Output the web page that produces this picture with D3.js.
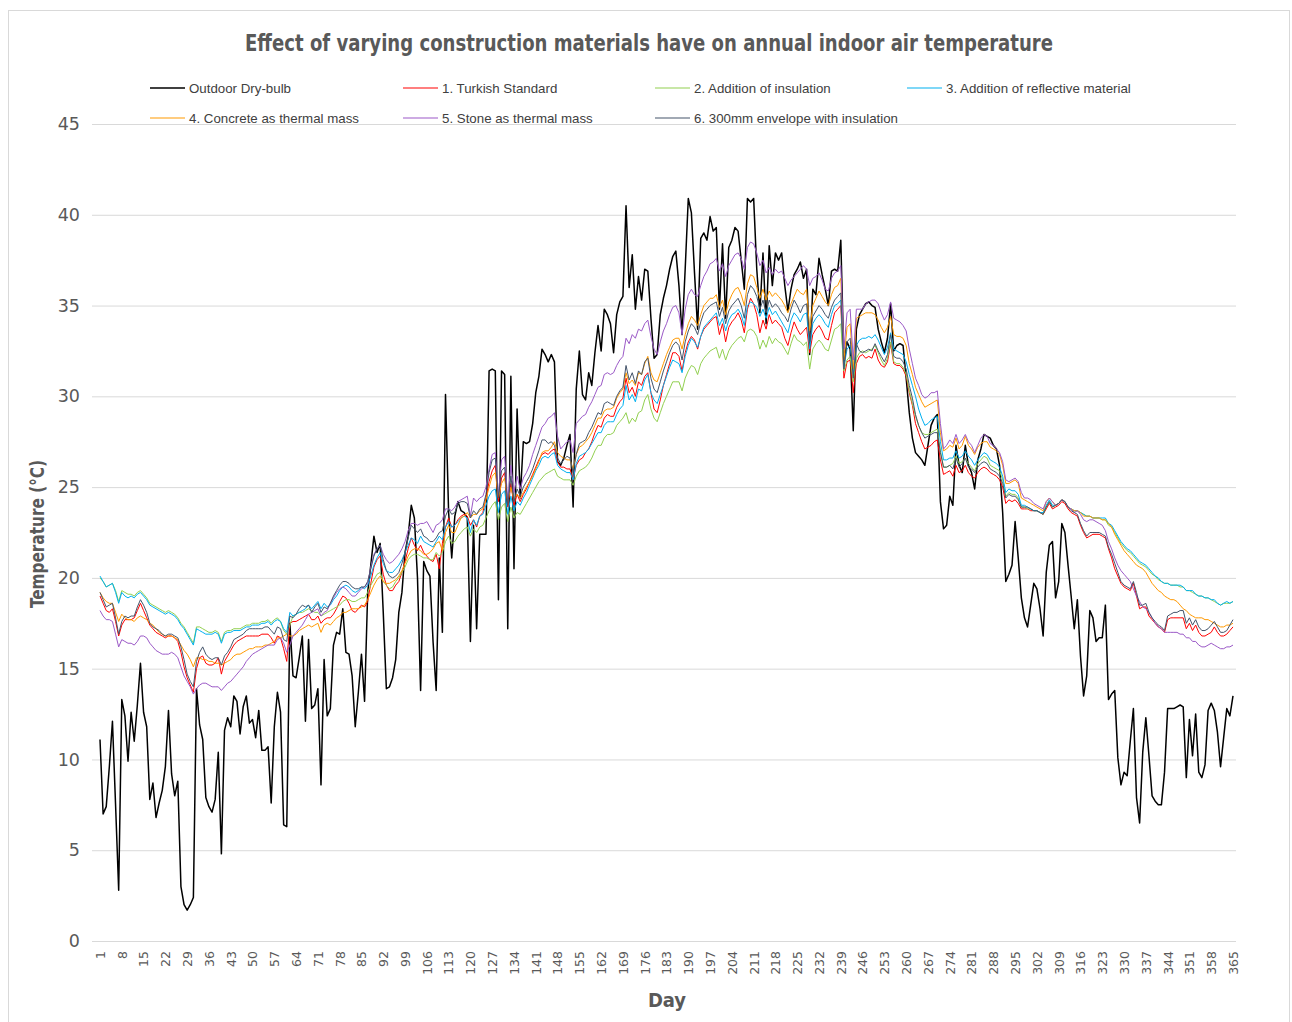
<!DOCTYPE html>
<html>
<head>
<meta charset="utf-8">
<script src="https://cdn.jsdelivr.net/npm/d3@7"></script>
<style>
  html, body { margin: 0; padding: 0; background: #ffffff; }
  svg { display: block; }
</style>
</head>
<body>
<svg id="chart" width="1292" height="1022"></svg>
<script>
// Daily mean temperatures (°C) over one year, day 1 .. 365
const outdoor = [
11.1,7.0,7.4,9.6,12.1,7.5,2.8,13.3,12.4,9.9,
12.6,11.0,13.0,15.3,12.6,11.8,7.8,8.7,6.8,7.6,
8.3,9.6,12.7,9.2,8.0,8.8,3.0,2.0,1.7,2.0,
2.4,13.9,11.9,11.1,7.9,7.4,7.1,7.8,10.4,4.8,
11.6,12.3,11.8,13.5,13.2,11.4,12.9,13.5,12.0,12.2,
11.2,12.7,10.5,10.5,10.7,7.6,11.8,13.7,12.6,6.4,
6.3,17.5,14.6,14.5,15.6,16.8,12.1,16.6,12.8,13.0,
13.9,8.6,15.5,12.4,12.8,16.3,17.0,16.9,18.3,15.9,
15.8,14.6,11.8,13.7,15.8,13.2,19.2,20.7,22.3,21.4,
21.9,18.1,13.9,14.0,14.5,15.5,18.1,19.2,21.4,22.3,
24.0,23.3,20.0,13.8,20.9,20.4,20.1,16.5,13.8,21.1,
17.0,30.1,23.6,21.1,23.4,24.2,23.7,23.6,23.3,16.5,
22.9,17.2,22.4,22.4,22.4,31.4,31.5,31.4,18.8,31.4,
31.2,17.2,31.1,20.5,29.3,24.4,27.5,27.4,27.5,28.5,
30.2,31.1,32.6,32.3,31.9,32.3,31.9,26.4,26.2,26.6,
27.3,27.9,23.9,30.4,32.5,30.1,29.8,31.3,30.6,32.4,
33.9,32.5,34.8,34.5,34.0,32.4,34.5,35.2,35.5,40.5,
36.0,37.8,34.8,36.6,35.3,37.0,36.9,34.3,32.1,32.3,
34.5,35.4,36.1,37.0,37.7,38.0,36.1,33.4,37.0,40.9,
40.1,36.8,33.7,38.7,39.0,38.6,39.9,39.1,39.3,34.8,
38.4,34.3,38.2,38.6,39.3,39.1,37.5,35.9,40.9,40.7,
40.9,37.0,34.6,37.9,34.0,38.3,36.1,37.9,37.5,37.9,
36.1,34.7,35.9,36.7,37.0,37.4,36.5,37.0,32.3,35.9,
35.6,37.6,36.7,35.9,35.0,36.9,37.0,36.9,38.6,31.9,
33.0,32.6,28.1,33.7,34.5,34.8,35.1,35.2,35.0,34.9,
33.7,33.0,32.4,33.2,35.1,32.5,32.8,32.9,32.8,31.0,
29.1,27.7,26.9,26.7,26.5,26.2,27.3,28.4,28.8,29.0,
24.2,22.7,22.9,24.5,24.0,27.3,26.2,25.8,27.3,26.2,
25.8,24.9,26.5,27.1,27.9,27.8,27.7,27.3,27.1,26.2,
23.6,19.8,20.2,20.7,23.1,21.1,18.9,17.8,17.3,18.5,
19.7,19.4,18.3,16.8,20.3,21.8,22.0,18.9,19.8,23.0,
22.5,20.7,19.0,17.2,18.8,15.7,13.5,14.6,18.2,17.8,
16.5,16.7,16.7,18.5,13.3,13.6,13.8,10.1,8.6,9.3,
9.1,11.0,12.8,7.9,6.5,10.4,12.3,10.2,8.0,7.7,
7.5,7.5,9.3,12.8,12.8,12.8,12.9,13.0,12.9,9.0,
12.2,10.2,12.5,9.3,9.0,9.7,12.7,13.1,12.7,11.5,
9.6,11.2,12.8,12.4,13.5
];

const turkishStandard = [
19.0,18.6,18.2,18.1,18.3,17.6,16.8,17.4,17.7,17.7,
17.7,17.8,18.2,18.6,18.2,17.8,17.4,17.2,17.0,16.9,
16.8,16.7,16.8,16.8,16.7,16.5,15.9,15.1,14.5,14.1,
13.7,15.0,15.6,15.7,15.3,15.2,15.2,15.3,15.6,14.7,
15.4,15.7,16.0,16.3,16.5,16.6,16.7,16.8,16.8,16.8,
16.8,16.8,16.9,16.9,16.9,16.7,16.4,16.8,16.7,16.1,
15.4,17.5,17.6,17.6,17.7,17.8,17.9,18.0,17.7,17.7,
17.9,17.5,17.7,17.8,17.8,18.0,18.3,18.7,19.0,18.9,
18.6,18.2,18.1,18.3,18.5,18.4,18.7,19.7,20.6,21.0,
21.2,20.2,19.6,19.3,19.3,19.6,19.8,20.3,20.9,21.6,
22.2,21.8,21.5,21.8,21.4,21.2,21.0,20.9,21.3,20.5,
21.9,22.8,23.3,22.8,22.9,23.2,23.4,23.5,23.4,22.9,
23.2,22.8,23.4,23.6,24.4,25.3,25.9,26.2,24.2,25.5,
25.8,23.9,25.2,24.0,24.6,24.2,24.6,24.9,25.3,25.7,
26.1,26.5,26.8,26.9,26.8,27.0,27.1,26.4,26.1,26.1,
26.0,26.0,25.4,26.2,26.5,26.6,26.9,27.1,27.5,28.0,
28.4,28.3,28.8,29.0,28.9,28.9,29.4,29.7,29.9,31.0,
30.2,30.5,30.0,30.8,30.6,31.1,31.3,30.2,29.3,29.1,
29.8,30.6,31.2,31.8,32.4,32.4,32.2,31.4,32.4,33.0,
33.3,33.1,32.6,33.3,33.7,33.9,34.1,34.3,34.4,33.4,
34.0,33.0,33.8,34.1,34.3,34.6,34.2,33.5,34.8,35.4,
35.1,34.5,33.5,34.2,33.7,34.5,34.0,34.2,34.0,33.8,
33.2,32.8,33.5,34.1,33.7,33.4,33.6,33.8,32.4,33.4,
33.7,33.9,33.6,33.2,33.1,33.9,34.6,34.8,35.0,31.0,
31.9,32.0,30.2,31.8,32.2,32.3,32.1,32.2,32.1,32.6,
32.0,31.7,31.6,31.9,32.9,31.8,31.7,31.7,31.5,31.1,
30.2,29.5,28.5,28.0,27.5,27.1,27.2,27.3,27.5,27.6,
26.5,25.7,25.8,25.9,25.6,26.2,25.8,25.9,26.2,25.8,
25.6,25.5,25.8,26.0,26.1,26.0,25.8,25.7,25.6,25.4,
25.0,24.1,24.3,24.2,24.3,24.1,23.8,23.8,23.8,23.7,
23.7,23.7,23.6,23.5,23.8,24.1,23.8,23.9,24.0,24.2,
24.1,23.8,23.6,23.5,23.4,22.9,22.5,22.2,22.3,22.4,
22.4,22.4,22.3,22.2,21.6,21.1,20.5,20.1,19.7,19.5,
19.4,19.3,19.7,19.0,18.3,18.4,18.4,17.9,17.7,17.5,
17.3,17.2,17.0,17.7,17.8,17.8,17.8,17.8,17.8,17.2,
17.5,17.1,17.4,17.0,16.8,16.8,16.9,17.0,17.3,17.0,
16.8,16.8,16.9,17.1,17.3
];

const addInsulation = [
20.0,19.8,19.5,19.6,19.7,19.3,18.7,19.3,19.2,19.1,
19.1,19.0,19.2,19.3,19.1,18.9,18.6,18.5,18.4,18.3,
18.2,18.1,18.2,18.1,18.0,17.8,17.5,17.3,17.0,16.7,
16.4,17.3,17.3,17.2,17.1,17.0,17.0,17.1,17.0,16.5,
17.0,17.1,17.1,17.2,17.2,17.2,17.3,17.4,17.4,17.5,
17.5,17.5,17.6,17.6,17.7,17.5,17.7,17.8,17.6,17.1,
16.9,17.4,17.9,18.0,18.1,18.1,18.2,18.3,18.2,18.1,
18.1,17.9,18.0,18.1,18.2,18.3,18.4,18.5,18.7,18.8,
18.8,18.7,18.7,18.8,18.9,18.9,19.2,19.6,19.9,20.2,
20.3,19.8,19.6,19.4,19.5,19.8,20.0,20.3,20.6,21.0,
21.2,21.3,21.3,21.2,21.1,21.1,21.0,21.0,21.4,21.2,
21.4,22.0,22.3,21.9,22.0,22.3,22.5,22.7,22.8,22.3,
22.7,22.5,22.8,22.9,23.3,23.7,24.0,24.2,23.2,23.9,
24.1,23.1,23.9,23.3,23.6,23.5,23.8,24.1,24.4,24.7,
25.0,25.3,25.5,25.7,25.8,25.9,26.0,25.6,25.5,25.4,
25.4,25.4,25.1,25.6,25.9,26.0,26.1,26.3,26.6,27.0,
27.3,27.3,27.7,27.9,27.9,28.0,28.4,28.6,28.8,29.1,
28.5,28.8,28.6,29.1,29.2,29.8,30.1,29.3,28.8,28.6,
29.1,29.6,30.0,30.4,30.8,30.8,30.8,30.3,31.0,31.4,
31.7,31.6,31.2,31.8,32.1,32.3,32.5,32.6,32.7,32.1,
32.6,32.0,32.5,32.8,33.0,33.2,33.3,33.0,33.6,33.7,
33.6,33.3,32.6,33.1,32.7,33.3,32.9,33.2,33.0,32.9,
32.6,32.3,32.9,33.4,33.1,33.0,32.8,33.0,31.5,32.6,
32.9,33.1,32.9,32.6,32.5,33.1,33.7,33.8,34.0,31.4,
32.0,32.2,30.8,32.1,32.4,32.5,32.4,32.5,32.6,32.8,
32.4,32.0,31.7,32.1,33.0,31.9,31.8,31.8,31.6,31.2,
30.3,29.6,28.9,28.4,28.0,27.9,27.9,28.0,28.1,28.2,
27.0,26.1,26.1,26.2,26.3,26.7,26.3,26.4,26.6,26.3,
26.1,25.9,26.3,26.5,26.7,26.6,26.2,26.1,26.0,25.9,
25.4,24.5,24.7,24.6,24.6,24.4,23.9,23.9,23.8,23.8,
23.7,23.7,23.6,23.5,23.9,24.2,23.9,24.0,24.1,24.3,
24.2,23.9,23.8,23.7,23.7,23.6,23.5,23.4,23.4,23.3,
23.3,23.3,23.2,23.2,22.9,22.8,22.5,22.2,21.9,21.7,
21.5,21.4,21.2,21.0,20.8,20.7,20.6,20.4,20.2,20.1,
19.9,19.8,19.7,19.7,19.6,19.6,19.6,19.5,19.5,19.3,
19.3,19.2,19.1,19.0,19.0,18.9,18.9,18.8,18.7,18.6,
18.5,18.6,18.6,18.6,18.7
];

const addReflective = [
20.1,19.8,19.5,19.6,19.7,19.2,18.6,19.2,19.0,18.9,
19.0,18.9,19.1,19.2,19.0,18.8,18.5,18.4,18.3,18.2,
18.1,18.0,18.1,18.0,17.9,17.7,17.4,17.2,16.9,16.6,
16.3,17.2,17.1,17.0,16.9,16.9,16.9,17.0,16.9,16.4,
16.9,17.0,17.0,17.1,17.1,17.1,17.2,17.3,17.3,17.4,
17.4,17.4,17.5,17.5,17.6,17.4,17.6,17.7,17.6,17.2,
17.0,18.1,17.9,18.0,18.1,18.2,18.3,18.5,18.3,18.5,
18.7,18.3,18.6,18.4,18.5,18.8,19.0,19.3,19.5,19.6,
19.5,19.3,19.2,19.3,19.5,19.4,19.6,20.1,20.7,21.1,
21.4,20.8,20.4,20.3,20.3,20.5,20.7,21.0,21.4,21.8,
22.2,22.1,21.9,22.3,22.0,21.9,21.8,21.7,22.0,22.3,
22.1,22.8,23.1,22.8,22.9,23.1,23.3,23.4,23.3,22.5,
23.2,22.9,23.4,23.5,24.0,24.5,24.8,24.9,23.6,24.6,
24.8,23.5,24.5,23.7,24.2,24.0,24.4,24.7,25.1,25.5,
25.9,26.2,26.6,26.7,26.6,26.8,26.9,26.2,26.0,25.9,
25.8,25.8,25.4,26.3,26.7,26.8,26.9,27.1,27.4,27.7,
28.0,28.0,28.4,28.6,28.6,28.6,29.0,29.3,29.5,30.6,
29.8,30.1,29.7,30.4,30.3,30.9,31.2,30.2,29.8,29.6,
30.1,30.6,31.1,31.6,32.0,31.9,31.8,31.3,32.2,32.8,
33.2,33.0,32.7,33.3,33.8,34.0,34.2,34.4,34.6,33.9,
34.3,33.6,34.2,34.5,34.6,34.8,34.5,33.9,35.0,35.2,
35.1,34.9,34.4,34.8,34.3,34.9,34.5,34.7,34.4,34.1,
33.8,33.5,34.2,34.6,34.4,34.1,34.5,34.6,32.6,34.0,
34.3,34.5,34.3,34.0,33.8,34.5,35.0,35.1,35.3,31.6,
32.6,32.8,31.2,32.8,33.1,33.2,33.2,33.3,33.2,33.4,
33.1,32.7,32.3,32.7,33.5,32.6,32.5,32.4,32.3,31.9,
31.2,30.6,30.0,29.3,28.8,28.4,28.5,28.7,28.8,28.9,
27.5,26.5,26.5,26.6,26.6,27.0,26.6,26.7,27.0,26.7,
26.5,26.2,26.5,26.7,26.9,26.8,26.5,26.4,26.3,26.1,
25.6,24.7,24.9,24.8,24.8,24.6,24.0,24.0,23.9,23.8,
23.7,23.7,23.6,23.6,24.0,24.3,24.0,24.0,24.1,24.3,
24.2,23.9,23.8,23.7,23.7,23.6,23.5,23.4,23.4,23.3,
23.3,23.3,23.3,23.3,23.0,22.9,22.6,22.3,22.0,21.8,
21.6,21.5,21.3,21.1,20.9,20.8,20.7,20.5,20.3,20.1,
20.0,19.8,19.7,19.7,19.6,19.6,19.6,19.6,19.5,19.3,
19.3,19.3,19.1,19.0,19.0,18.9,18.9,18.8,18.8,18.6,
18.5,18.6,18.7,18.6,18.7
];

const concreteMass = [
19.2,18.9,18.7,18.6,18.6,18.1,17.6,18.0,17.8,17.7,
17.7,17.6,17.8,17.9,17.8,17.7,17.5,17.4,17.2,17.0,
16.9,16.8,16.8,16.8,16.7,16.6,16.3,16.0,15.8,15.5,
15.1,15.6,15.6,15.5,15.5,15.4,15.4,15.3,15.3,15.2,
15.3,15.4,15.5,15.7,15.8,15.8,15.9,16.0,16.1,16.1,
16.2,16.2,16.2,16.3,16.3,16.4,16.5,16.7,16.7,16.8,
16.9,16.8,16.8,16.9,17.1,17.2,17.3,17.4,17.3,17.4,
17.5,17.0,17.4,17.5,17.4,17.6,17.8,17.9,18.1,18.1,
18.2,18.3,18.3,18.3,18.4,18.5,18.8,19.2,19.6,19.9,
20.1,19.8,19.7,19.7,19.8,19.9,20.1,20.4,20.8,21.2,
21.5,21.6,21.6,21.5,21.3,21.3,21.4,21.6,21.9,22.0,
21.5,22.5,22.9,22.5,22.5,22.9,23.3,23.4,23.6,23.3,
23.5,23.5,23.7,23.8,24.3,25.0,25.6,25.8,24.4,25.2,
25.5,24.2,25.0,24.3,24.6,24.4,24.7,25.0,25.3,25.6,
26.0,26.4,26.9,27.0,27.0,27.2,27.5,26.9,26.7,26.6,
26.5,26.5,26.0,26.8,27.2,27.3,27.5,27.7,28.0,28.4,
28.8,28.8,29.2,29.3,29.3,29.4,29.9,30.2,30.4,31.3,
30.7,30.9,30.6,31.3,31.2,31.8,32.2,31.3,30.9,30.8,
31.3,31.8,32.3,32.7,33.1,33.2,33.2,32.6,33.4,34.0,
34.4,34.2,33.9,34.5,35.0,35.2,35.4,35.4,35.6,34.9,
35.3,34.5,35.2,35.6,35.9,36.0,35.6,35.0,36.2,36.7,
36.6,36.0,35.4,35.9,35.3,35.8,35.5,35.7,35.5,35.3,
35.0,34.6,35.1,35.5,35.9,35.7,35.6,35.9,33.6,35.0,
35.4,35.8,35.5,35.2,35.0,35.6,36.0,36.1,36.5,32.0,
33.8,34.0,31.5,34.3,34.4,34.5,34.6,34.6,34.6,34.5,
34.2,33.8,33.5,33.8,34.4,33.4,33.3,33.3,33.2,32.8,
31.8,31.2,30.5,30.1,29.7,29.4,29.5,29.6,29.7,29.8,
28.0,27.0,27.1,27.3,27.2,27.7,27.1,27.3,27.8,27.3,
27.1,26.8,27.2,27.4,27.5,27.5,27.2,27.1,27.0,26.8,
26.2,25.2,25.2,25.3,25.4,25.2,24.4,24.3,24.2,24.1,
24.0,23.9,23.8,23.7,24.2,24.4,24.2,24.0,24.1,24.3,
24.2,23.9,23.8,23.7,23.7,23.6,23.4,23.4,23.4,23.3,
23.3,23.3,23.2,23.2,23.0,22.8,22.4,22.1,21.8,21.5,
21.3,21.1,20.9,20.7,20.6,20.5,20.3,20.0,19.7,19.5,
19.3,19.2,19.0,18.9,18.8,18.8,18.7,18.5,18.3,18.2,
18.0,17.9,17.8,17.8,17.8,17.7,17.7,17.6,17.5,17.4,
17.3,17.3,17.4,17.4,17.5
];

const stoneMass = [
18.2,17.9,17.7,17.7,17.6,16.9,16.2,16.6,16.5,16.4,
16.4,16.3,16.5,16.8,16.8,16.7,16.4,16.2,16.0,15.9,
15.8,15.8,15.8,15.9,15.8,15.6,15.1,14.6,14.3,14.0,
13.6,13.9,14.1,14.2,14.2,14.1,14.0,14.0,14.0,13.8,
14.0,14.2,14.3,14.5,14.7,14.9,15.1,15.4,15.6,15.8,
15.9,16.0,16.1,16.2,16.3,16.3,16.3,16.6,16.7,16.4,
15.9,16.3,16.8,17.0,17.2,17.4,17.7,18.0,18.1,18.2,
18.3,17.9,18.1,18.2,18.6,18.9,19.2,19.4,19.5,19.4,
19.2,19.0,19.0,19.2,19.4,19.5,19.7,20.6,21.3,21.6,
21.8,21.3,21.0,20.8,20.9,21.1,21.3,21.6,22.0,22.6,
23.0,23.0,22.9,23.0,23.0,23.1,22.8,22.5,22.9,23.0,
23.2,23.8,23.8,23.7,23.9,24.2,24.3,24.4,24.5,23.4,
24.4,24.2,24.4,24.5,25.0,26.0,26.8,26.9,24.6,26.5,
26.7,24.3,26.2,24.7,25.6,24.9,25.5,25.8,26.2,26.8,
27.3,27.8,28.3,28.5,28.8,28.9,29.1,27.8,27.1,27.3,
27.5,27.6,26.9,28.5,28.7,28.9,29.0,29.4,29.7,30.1,
30.5,30.6,31.2,31.3,31.2,31.3,31.7,32.0,32.2,33.2,
32.9,33.4,33.2,33.7,33.6,34.0,34.2,33.3,32.6,32.3,
33.0,33.6,34.0,34.5,34.9,35.0,34.6,33.4,34.8,35.6,
35.9,35.6,35.5,36.1,36.6,36.9,37.3,37.4,37.6,36.9,
37.3,36.6,37.2,37.5,37.8,37.9,37.6,37.0,38.2,38.5,
38.4,37.9,37.2,37.5,36.8,37.1,36.7,37.0,36.8,36.9,
36.5,36.1,36.4,36.6,36.8,37.0,37.2,37.0,36.1,36.5,
36.6,36.8,36.4,35.9,35.8,36.5,36.8,36.9,37.2,32.6,
34.6,34.8,32.0,34.8,34.8,34.8,35.1,35.2,35.3,35.3,
35.1,34.6,34.2,34.5,35.2,34.3,34.2,34.1,33.9,33.6,
32.6,31.8,31.0,30.6,30.1,29.9,30.0,30.2,30.2,30.3,
28.5,27.1,27.3,27.6,27.4,27.9,27.4,27.6,27.9,27.5,
27.3,26.9,27.3,27.7,27.9,27.8,27.4,27.3,27.1,26.9,
26.4,25.4,25.3,25.4,25.5,25.3,24.7,24.4,24.4,24.3,
24.1,24.0,23.9,23.8,24.2,24.4,24.2,24.0,24.1,24.3,
24.2,23.9,23.8,23.6,23.7,23.5,23.2,23.1,23.2,23.2,
23.1,23.0,22.9,22.6,22.0,21.6,21.1,20.7,20.4,20.2,
20.0,19.8,19.4,19.0,18.7,18.4,18.3,18.1,17.8,17.5,
17.3,17.2,17.0,17.0,17.0,17.0,17.0,16.9,16.9,16.7,
16.7,16.5,16.5,16.3,16.2,16.2,16.3,16.4,16.3,16.2,
16.1,16.1,16.2,16.2,16.3
];

const envelope300 = [
19.2,18.8,18.4,18.5,18.6,17.8,16.9,17.6,17.9,17.8,
17.9,17.9,18.4,18.8,18.5,18.1,17.5,17.3,17.2,17.1,
16.9,16.8,16.9,16.9,16.8,16.7,16.2,15.5,14.7,14.3,
14.0,15.4,15.9,16.2,15.8,15.6,15.5,15.6,15.6,15.2,
15.7,15.9,16.2,16.6,16.7,16.8,16.9,17.1,17.2,17.2,
17.2,17.2,17.2,17.3,17.3,17.1,16.9,17.3,17.2,16.6,
16.5,17.9,17.8,18.0,18.3,18.5,18.4,18.5,18.1,18.4,
18.6,18.1,18.4,18.3,18.6,19.0,19.3,19.6,19.8,19.8,
19.7,19.5,19.4,19.4,19.5,19.5,19.8,20.5,21.2,21.6,
21.8,21.0,20.4,20.1,20.0,20.1,20.3,20.8,21.4,22.2,
22.9,22.7,22.5,22.7,22.3,22.2,22.0,22.0,22.2,22.5,
22.6,23.4,23.8,23.5,23.6,24.1,24.2,24.2,24.1,23.3,
23.7,23.5,23.8,23.9,24.6,25.8,26.5,26.6,24.4,25.9,
26.1,24.0,25.6,24.2,24.9,24.5,25.0,25.3,25.6,26.0,
26.5,27.0,27.6,27.6,27.4,27.5,27.3,26.6,26.3,26.5,
26.7,26.6,25.8,26.8,27.4,27.5,27.6,28.0,28.3,28.7,
29.1,29.0,29.6,29.7,29.6,29.5,30.0,30.3,30.5,31.7,
30.9,31.3,30.7,31.4,31.2,31.9,32.1,31.0,30.4,30.2,
30.8,31.4,31.9,32.4,32.8,33.0,32.8,32.0,33.0,33.6,
34.0,33.8,33.4,34.1,34.6,34.8,35.0,35.1,35.2,34.4,
34.9,34.0,34.7,35.0,35.2,35.4,35.0,34.3,35.6,36.1,
35.9,35.5,34.8,35.3,34.6,35.3,34.9,35.1,34.9,34.6,
34.4,34.1,34.8,35.3,35.0,34.6,35.0,35.1,33.0,34.4,
34.7,35.0,34.8,34.5,34.3,34.9,35.3,35.5,35.7,31.5,
33.0,33.2,31.0,32.9,32.5,32.4,32.5,32.6,32.5,32.9,
32.5,32.2,31.9,32.3,33.4,32.2,32.1,32.1,31.9,31.5,
30.6,29.9,29.0,28.4,28.0,27.7,27.8,27.9,28.0,28.0,
26.9,26.1,26.1,26.2,26.0,26.6,26.1,26.3,26.6,26.1,
26.0,25.8,26.1,26.3,26.4,26.3,26.0,25.9,25.8,25.6,
25.2,24.4,24.6,24.5,24.5,24.3,23.9,23.9,23.9,23.8,
23.7,23.7,23.6,23.5,23.9,24.2,23.9,24.0,24.1,24.3,
24.2,23.9,23.7,23.6,23.5,23.0,22.6,22.3,22.5,22.5,
22.5,22.5,22.4,22.3,21.7,21.3,20.8,20.3,19.8,19.6,
19.5,19.4,19.8,19.2,18.5,18.5,18.6,18.1,17.8,17.6,
17.4,17.3,17.1,17.9,18.0,18.1,18.1,18.2,18.2,17.5,
17.8,17.4,17.7,17.3,17.1,17.1,17.2,17.4,17.6,17.3,
17.0,17.0,17.1,17.4,17.7
];

const seriesNames = [
  "Outdoor Dry-bulb",
  "1. Turkish Standard",
  "2. Addition of insulation",
  "3. Addition of reflective material",
  "4. Concrete as thermal mass",
  "5. Stone as thermal mass",
  "6. 300mm envelope with insulation"
];
const seriesColors = ["#000000", "#ff0000", "#92d050", "#00b0f0", "#ff9900", "#9b59c7", "#44546a"];
const seriesWidths = [1.5, 1, 1, 1, 1, 1, 1];

const dayTicks = [1,8,15,22,29,36,43,50,57,64,71,78,85,92,99,106,113,120,127,134,141,148,155,162,169,176,183,190,197,204,211,218,225,232,239,246,253,260,267,274,281,288,295,302,309,316,323,330,337,344,351,358,365];
const tempTicks = [0,5,10,15,20,25,30,35,40,45];

const chartTitle = "Effect of varying construction materials have on annual indoor air temperature";
const yTitle = "Temperature (°C)";
const xTitle = "Day";

const allSeries = [outdoor, turkishStandard, addInsulation, addReflective, concreteMass, stoneMass, envelope300];

// ---- layout ----
const svg = d3.select("#chart");
const plot = { left: 100, right: 1233, top: 124, bottom: 941 };

const x = d3.scaleLinear().domain([1, 365]).range([plot.left, plot.right]);
const y = d3.scaleLinear().domain([0, 45]).range([plot.bottom, plot.top]);

const condensed = "'Liberation Sans Narrow','DejaVu Sans Condensed','Roboto Condensed',sans-serif";
const textGray = "#595959";

// outer frame
svg.append("rect")
  .attr("x", 8.5).attr("y", 10.5).attr("width", 1281).attr("height", 1030)
  .attr("fill", "none").attr("stroke", "#d9d9d9").attr("stroke-width", 1);

// title
svg.append("text")
  .attr("x", 649).attr("y", 51)
  .attr("text-anchor", "middle")
  .attr("font-family", condensed)
  .attr("font-weight", "bold")
  .attr("font-size", 23)
  .attr("fill", textGray)
  .attr("textLength", 808)
  .attr("lengthAdjust", "spacingAndGlyphs")
  .text(chartTitle);

// horizontal gridlines and value labels
const yAxis = d3.axisLeft(y)
  .tickValues(tempTicks)
  .tickSize(-(1236 - 92))
  .tickPadding(12)
  .tickFormat(d3.format("d"));

const yG = svg.append("g")
  .attr("transform", `translate(92,0)`)
  .call(yAxis);
yG.select(".domain").remove();
yG.selectAll(".tick line").attr("stroke", "#d9d9d9").attr("stroke-width", 1);
yG.selectAll(".tick text")
  .attr("font-family", "'DejaVu Sans',sans-serif")
  .attr("font-size", 17.5)
  .attr("fill", textGray);

// bottom axis with rotated day labels
const xAxis = d3.axisBottom(x)
  .tickValues(dayTicks)
  .tickSize(0)
  .tickFormat(d3.format("d"));

const xG = svg.append("g")
  .attr("transform", `translate(0,${plot.bottom})`)
  .call(xAxis);
xG.select(".domain").remove();
xG.selectAll(".tick text")
  .attr("font-family", "'DejaVu Sans',sans-serif")
  .attr("font-size", 12.5)
  .attr("fill", textGray)
  .attr("text-anchor", "end")
  .attr("dy", "0.35em")
  .attr("transform", "translate(0,10) rotate(-90)")
  .attr("x", 0).attr("y", 0);

// axis titles
svg.append("text")
  .attr("transform", "translate(44,534) rotate(-90)")
  .attr("text-anchor", "middle")
  .attr("font-family", condensed)
  .attr("font-weight", "bold")
  .attr("font-size", 19)
  .attr("fill", textGray)
  .attr("textLength", 148)
  .attr("lengthAdjust", "spacingAndGlyphs")
  .text(yTitle);

svg.append("text")
  .attr("x", 667).attr("y", 1007)
  .attr("text-anchor", "middle")
  .attr("font-family", condensed)
  .attr("font-weight", "bold")
  .attr("font-size", 20)
  .attr("fill", textGray)
  .text(xTitle);

// series lines
const line = d3.line()
  .x((d, i) => x(i + 1))
  .y(d => y(d));

svg.append("g")
  .selectAll("path")
  .data(allSeries)
  .join("path")
  .attr("d", d => line(d))
  .attr("fill", "none")
  .attr("stroke", (d, i) => seriesColors[i])
  .attr("stroke-width", (d, i) => seriesWidths[i])
  .attr("stroke-linejoin", "round");

// legend: two rows of four and three entries
const legendCols = [150, 403, 655, 907];
const legendRows = [88, 118];
const legend = svg.append("g")
  .selectAll("g")
  .data(seriesNames)
  .join("g")
  .attr("transform", (d, i) => `translate(${legendCols[i % 4]},${legendRows[Math.floor(i / 4)]})`);

legend.append("line")
  .attr("x1", 0).attr("x2", 35).attr("y1", 0).attr("y2", 0)
  .attr("stroke", (d, i) => seriesColors[i])
  .attr("stroke-width", (d, i) => i === 0 ? 1.5 : 1.2);

legend.append("text")
  .attr("x", 39).attr("y", 0).attr("dy", "0.35em")
  .attr("font-family", "'Liberation Sans',Arial,sans-serif")
  .attr("font-size", 13.3)
  .attr("fill", "#404040")
  .text(d => d);
</script>
</body>
</html>
